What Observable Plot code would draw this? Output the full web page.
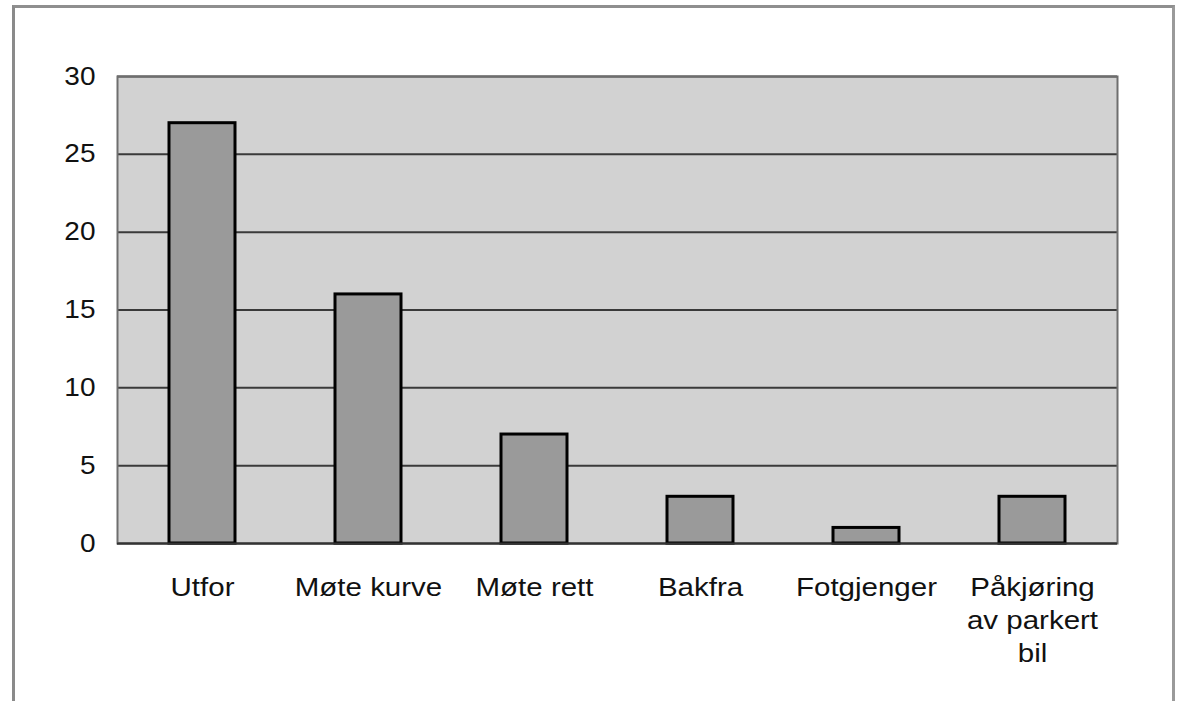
<!DOCTYPE html>
<html>
<head>
<meta charset="utf-8">
<script src="https://cdn.jsdelivr.net/npm/d3@7"></script>
<script src="https://cdn.jsdelivr.net/npm/@observablehq/plot@0.6"></script>
<style>
  html, body { margin: 0; padding: 0; background: #fff; }
  #wrap { position: relative; width: 1177px; height: 701px; overflow: hidden; }
  #border { position: absolute; left: 12px; top: 5px; width: 1157px; height: 720px;
            border-left: 3px solid #8a8a8a; border-top: 3px solid #8f8f8f; border-right: 3px solid #9a9a9a; }
  #chart { position: absolute; left: 0; top: 0; }
  #chart svg text { font-family: "Liberation Sans", Arial, sans-serif; }
</style>
</head>
<body>
<div id="wrap"><div id="border"></div><div id="chart"></div></div>
<script>
const categories = ["Utfor", "Møte kurve", "Møte rett", "Bakfra", "Fotgjenger", "Påkjøring\nav parkert\nbil"];
const values = [27, 16, 7, 3, 1, 3];
const yTicks = [0, 5, 10, 15, 20, 25, 30];

const data = categories.map((c, i) => ({category: c, value: values[i]}));

const chart = Plot.plot({
  width: 1177,
  height: 701,
  marginLeft: 117,
  marginRight: 60,
  marginTop: 76,
  marginBottom: 158,
  style: {background: "transparent", color: "#111", fontSize: "25px"},
  x: {domain: categories, paddingInner: 0.6, paddingOuter: 0.3, label: null},
  y: {domain: [0, 30], ticks: yTicks, label: null},
  marks: [
    Plot.frame({fill: "#d2d2d2", stroke: null}),
    Plot.gridY(yTicks, {stroke: "#3a3a3a", strokeOpacity: 1, strokeWidth: 2}),
    Plot.frame({stroke: "#6e6e6e", strokeWidth: 2, fill: null}),
    Plot.barY(data, {x: "category", y: "value", fill: "#9a9a9a", stroke: "#000", strokeWidth: 3}),
    Plot.ruleY([0], {stroke: "#333", strokeWidth: 2}),
    Plot.axisY({ticks: yTicks, tickSize: 0, tickPadding: 22, fontSize: 25, fill: "#111"}),
    Plot.axisX({tickSize: 0, tickPadding: 29, fontSize: 25, lineHeight: 1.32, fill: "#111", tickFormat: d => d})
  ]
});
document.getElementById("chart").appendChild(chart);
// widen the glyphs horizontally like the scanned original
chart.querySelectorAll('g[aria-label="x-axis tick label"] text').forEach(t => {
  t.setAttribute("transform", (t.getAttribute("transform") || "") + " scale(1.18,1)");
});
chart.querySelectorAll('g[aria-label="y-axis tick label"] text').forEach(t => {
  t.setAttribute("transform", (t.getAttribute("transform") || "") + " scale(1.12,1)");
});
</script>
</body>
</html>
